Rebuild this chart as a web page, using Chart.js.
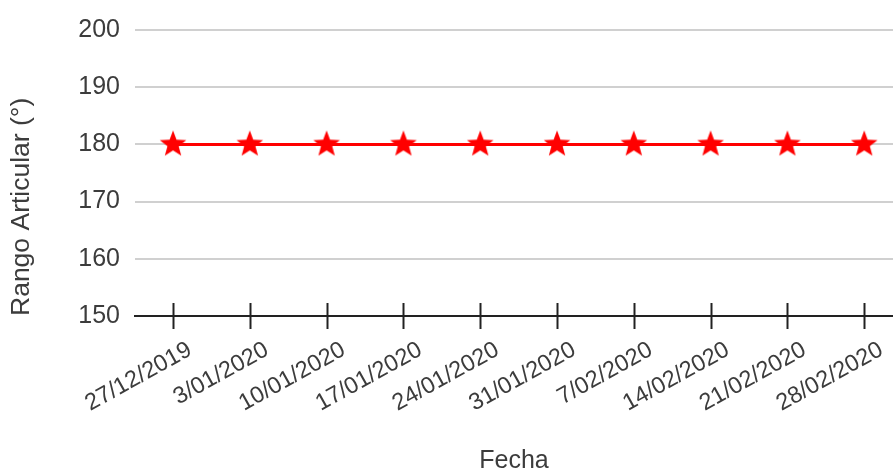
<!DOCTYPE html>
<html>
<head>
<meta charset="utf-8">
<script src="https://cdn.jsdelivr.net/npm/chart.js@4/dist/chart.umd.min.js"></script>
<style>
  html, body { margin: 0; padding: 0; background: #fff; }
  #wrap { width: 893px; height: 474px; }
</style>
</head>
<body>
<div id="wrap"><canvas id="myChart"></canvas></div>
<script>
const fechas = ['27/12/2019', '3/01/2020', '10/01/2020', '17/01/2020', '24/01/2020',
    '31/01/2020', '7/02/2020', '14/02/2020', '21/02/2020', '28/02/2020'];
const rango = [180, 180, 180, 180, 180, 180, 180, 180, 180, 180];
const yTicks = [150, 160, 170, 180, 190, 200];

// filled five-point star used as the marker
function makeStar(r, color) {
    const c = document.createElement('canvas');
    c.width = c.height = r * 2 + 2;
    const g = c.getContext('2d');
    const cx = r + 1, cy = r + 1, inner = r * 0.42;
    g.beginPath();
    for (let i = 0; i < 10; i++) {
        const rad = i % 2 === 0 ? r : inner;
        const a = -Math.PI / 2 + i * Math.PI / 5;
        g.lineTo(cx + rad * Math.cos(a), cy + rad * Math.sin(a));
    }
    g.closePath();
    g.fillStyle = color;
    g.fill();
    return c;
}

// short tick marks that cross the x axis line
const crossTicks = {
    id: 'crossTicks',
    afterDraw(chart) {
        const x = chart.scales.x, y = chart.scales.y;
        const ctx = chart.ctx;
        const y0 = y.getPixelForValue(150);
        ctx.save();
        ctx.strokeStyle = '#222';
        ctx.lineWidth = 2;
        fechas.forEach((f, i) => {
            const px = Math.round(x.getPixelForValue(i)) + 0.5;
            ctx.beginPath();
            ctx.moveTo(px, y0 - 13);
            ctx.lineTo(px, y0 + 13);
            ctx.stroke();
        });
        ctx.restore();
    }
};

Chart.defaults.font.family = '"Liberation Sans", Arial, sans-serif';
Chart.defaults.color = '#3c3c3c';

const ctx = document.getElementById('myChart').getContext('2d');
new Chart(ctx, {
    type: 'line',
    data: {
        datasets: [{
            data: rango.map((v, i) => ({ x: i, y: v })),
            borderColor: '#ff0000',
            borderWidth: 3,
            pointStyle: makeStar(14, '#ff0000'),
            pointRadius: 14,
            fill: false,
        }],
    },
    plugins: [crossTicks],
    options: {
        responsive: true,
        maintainAspectRatio: false,
        animation: false,
        layout: { autoPadding: false, padding: { top: 16, right: 0, left: 0, bottom: 0 } },
        plugins: {
            legend: { display: false },
            tooltip: { enabled: false },
        },
        scales: {
            x: {
                type: 'linear',
                min: -0.4948,
                max: 9.375,
                afterBuildTicks: (s) => { s.ticks = fechas.map((f, i) => ({ value: i })); },
                afterFit: (s) => { s.height = 158; s.paddingRight = 0; s.paddingLeft = 0; },
                ticks: {
                    callback: (v) => fechas[v],
                    maxRotation: 29,
                    minRotation: 29,
                    autoSkip: false,
                    padding: 12,
                    labelOffset: 17,
                    font: { size: 23.5 },
                },
                grid: { display: false },
                border: { display: true, color: '#222', width: 2 },
                title: {
                    display: true,
                    text: 'Fecha',
                    font: { size: 25, lineHeight: 1.0 },
                    padding: { top: 10, bottom: 0 },
                },
            },
            y: {
                min: 150,
                max: 200,
                afterBuildTicks: (s) => { s.ticks = yTicks.map(v => ({ value: v })); },
                afterFit: (s) => { s.width = 135; },
                ticks: {
                    padding: 15,
                    font: { size: 25 },
                },
                grid: {
                    drawTicks: false,
                    color: (c) => c.tick && c.tick.value === 150 ? 'rgba(0,0,0,0)' : '#d0d0d0',
                    lineWidth: 2,
                },
                border: { display: false },
                title: {
                    display: true,
                    text: 'Rango Articular (°)',
                    align: 'start',
                    font: { size: 26.5 },
                    padding: { top: 6, bottom: 8 },
                },
            },
        },
    },
});
</script>
</body>
</html>
